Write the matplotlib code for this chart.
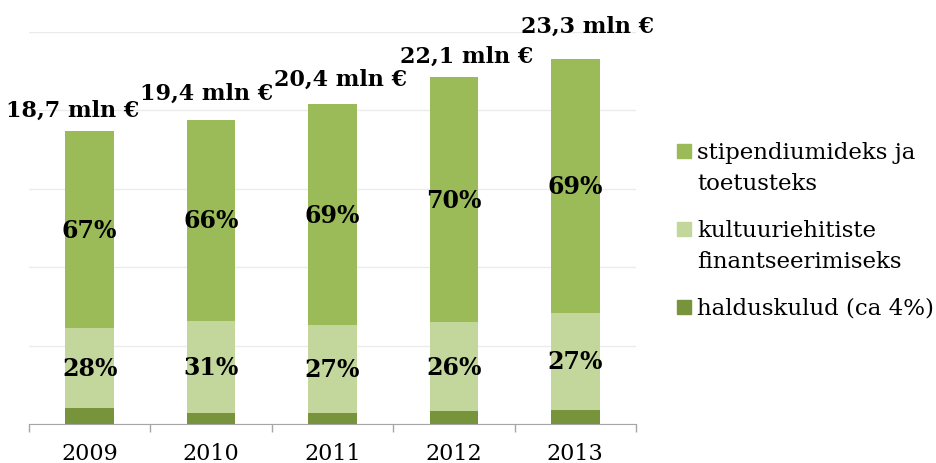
import numpy as np
import matplotlib.pyplot as plt
from matplotlib.patches import Rectangle

plt.rcParams['font.family'] = ['DejaVu Serif']

# data (mln €)
years = ['2009', '2010', '2011', '2012', '2013']
totals = [18.7, 19.4, 20.4, 22.1, 23.3]
halduskulud = [1.0, 0.7, 0.7, 0.8, 0.9]
kultuur = [5.1, 5.9, 5.6, 5.7, 6.2]
stipendium = [12.6, 12.8, 14.1, 15.6, 16.2]
pct_stipendium = ['67%', '66%', '69%', '70%', '69%']
pct_kultuur = ['28%', '31%', '27%', '26%', '27%']
total_labels = ['18,7 mln €', '19,4 mln €', '20,4 mln €', '22,1 mln €', '23,3 mln €']

legend_labels = ['stipendiumideks ja\ntoetusteks',
                 'kultuuriehitiste\nfinantseerimiseks',
                 'halduskulud (ca 4%)']

c_top = '#9BBB59'
c_mid = '#C3D69B'
c_bot = '#77933C'

# hand placement of the total labels (points)
label_dx = [-12, -3, 6, 9, 9]
label_dy = [11, 15, 14, 11, 19]

fig = plt.figure(figsize=(9.36, 4.64), dpi=100)
ax = fig.add_axes([29 / 936, 39 / 464, 607 / 936, 392 / 464])

x = np.arange(len(years))
w = 0.4
b1 = ax.bar(x, halduskulud, w, color=c_bot, zorder=3)
b2 = ax.bar(x, kultuur, w, bottom=halduskulud, color=c_mid, zorder=3)
bottom3 = np.array(halduskulud) + np.array(kultuur)
b3 = ax.bar(x, stipendium, w, bottom=bottom3, color=c_top, zorder=3)

ax.bar_label(b2, labels=pct_kultuur, label_type='center',
             fontsize=17, fontweight='bold', color='black')
ax.bar_label(b3, labels=pct_stipendium, label_type='center',
             fontsize=17, fontweight='bold', color='black')

for i, t in enumerate(totals):
    ax.annotate(total_labels[i], (x[i], t), xytext=(label_dx[i], label_dy[i]),
                textcoords='offset points', ha='center', va='baseline',
                fontsize=16, fontweight='bold', annotation_clip=False)

ax.set_xlim(-0.5, len(years) - 0.5)
ax.set_ylim(0, 25)
ax.set_yticks(np.arange(0, 26, 5))
ax.yaxis.grid(True, color='#EBEBEB', linewidth=1, zorder=0)
ax.tick_params(axis='y', left=False, labelleft=False)
ax.set_xticks(x)
ax.set_xticklabels(years, fontsize=16)
ax.set_xticks(np.arange(-0.5, len(years)), minor=True)
ax.tick_params(axis='x', which='major', length=0, pad=13)
ax.tick_params(axis='x', which='minor', length=6, color='#A6A6A6', width=1)
for s in ['top', 'right', 'left']:
    ax.spines[s].set_visible(False)
ax.spines['bottom'].set_color('#A6A6A6')
ax.set_axisbelow(True)

# legend drawn by hand so the square sits on the first text line
colors = [c_top, c_mid, c_bot]
row_base = [159, 237, 315]
for lab, col, yb in zip(legend_labels, colors, row_base):
    fig.patches.append(Rectangle((677 / 936, 1 - yb / 464), 14 / 936, 14 / 464,
                                 transform=fig.transFigure, color=col))
    for k, line in enumerate(lab.split('\n')):
        fig.text(697 / 936, 1 - (yb + 31 * k) / 464, line, fontsize=16.5,
                 va='baseline', ha='left')

fig.savefig('out.png', dpi=100)
